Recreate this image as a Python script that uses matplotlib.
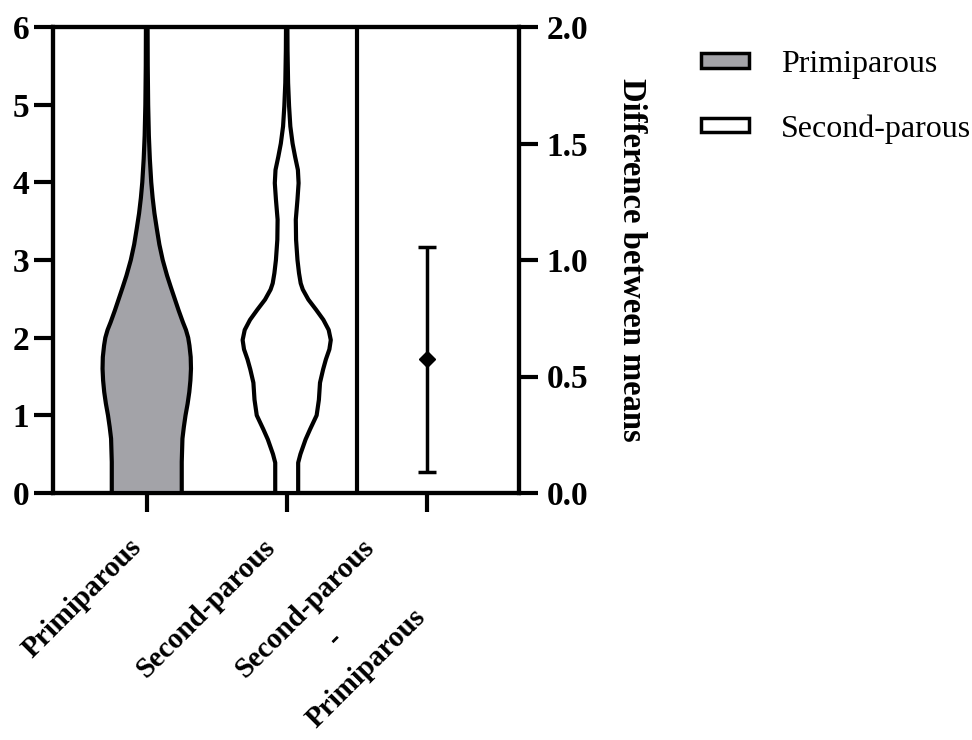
import numpy as np
import matplotlib
matplotlib.use("Agg")
import matplotlib.pyplot as plt
import matplotlib.transforms as mtrans
from matplotlib.patches import Patch

plt.rcParams['font.family'] = ['Liberation Serif', 'DejaVu Serif']

# category labels on the x axis
groups = ['Primiparous', 'Second-parous', 'Second-parous\n-\nPrimiparous']

# violin outlines: value level and half width (in group units)
prim_y = [0, 0.4, 0.7, 0.85, 1.0, 1.15, 1.3, 1.45, 1.6, 1.75, 1.9, 2.0, 2.1, 2.2, 2.35, 2.5,
          2.65, 2.8, 3.0, 3.2, 3.4, 3.6, 3.8, 4.0, 4.3, 4.6, 5.0, 5.5, 6.0]
prim_w = [0.25, 0.25, 0.255, 0.265, 0.277, 0.292, 0.304, 0.312, 0.316, 0.314, 0.305, 0.296, 0.28,
          0.258, 0.228, 0.20, 0.172, 0.145, 0.114, 0.09, 0.072, 0.055, 0.042, 0.032, 0.022,
          0.015, 0.01, 0.007, 0.006]

sec_y = [0, 0.39, 0.5, 0.69, 0.82, 1.0, 1.2, 1.42, 1.59, 1.72, 1.85, 1.97, 2.1, 2.23, 2.36, 2.49,
         2.62, 2.7, 2.83, 3.0, 3.26, 3.52, 3.78, 3.99, 4.16, 4.33, 4.5, 4.72, 4.98, 5.28, 5.7, 6.0]
sec_w = [0.082, 0.082, 0.098, 0.135, 0.167, 0.214, 0.23, 0.238, 0.26, 0.28, 0.305, 0.315, 0.3,
         0.262, 0.21, 0.155, 0.115, 0.1, 0.088, 0.077, 0.067, 0.065, 0.077, 0.085, 0.08, 0.06,
         0.042, 0.026, 0.017, 0.01, 0.006, 0.005]

# difference between means with its confidence interval
diff_mean = 0.575
diff_low = 0.09
diff_high = 1.055

gray = '#a3a3a8'
lw = 3.0

fig = plt.figure(figsize=(9.72, 7.4), dpi=100)
ax = fig.add_axes([53/972, 1-493/740, (519-53)/972, (493-27)/740])
ax.set_xlim(0.33, 3.66)
ax.set_ylim(0, 6)

for pos, ys, ws, fc in [(1, prim_y, prim_w, gray), (2, sec_y, sec_w, 'white')]:
    ys = np.array(ys)
    ws = np.array(ws)
    ax.fill_betweenx(ys, pos - ws, pos + ws, facecolor=fc, edgecolor='none', zorder=3, clip_on=False)
    ax.plot(pos - ws, ys, color='black', lw=lw, zorder=4, clip_on=False, solid_capstyle='butt')
    ax.plot(pos + ws, ys, color='black', lw=lw, zorder=4, clip_on=False, solid_capstyle='butt')

ax.axvline(2.5, color='black', lw=lw, zorder=2)

for s in ax.spines.values():
    s.set_linewidth(lw)
ax.set_yticks(range(7))
ax.set_xticks([1, 2, 3])
ax.set_xticklabels(groups, rotation=45, ha='right', va='top', multialignment='center',
                   linespacing=1.75, fontsize=21, fontweight='bold')
ax.tick_params(axis='y', length=14, width=lw, labelsize=24, pad=3)
ax.tick_params(axis='x', length=14, width=lw, pad=15)
for t in ax.get_yticklabels():
    t.set_fontweight('bold')

# nudge the x labels to where they sit in the picture
xl = ax.get_xticklabels()
xl[1].set_transform(xl[1].get_transform() + mtrans.ScaledTranslation(-0.06, 0, fig.dpi_scale_trans))
xl[2].set_transform(xl[2].get_transform() + mtrans.ScaledTranslation(0.14, 0, fig.dpi_scale_trans))

ax2 = ax.twinx()
ax2.set_ylim(0, 2)
ax2.set_yticks([0, 0.5, 1.0, 1.5, 2.0])
ax2.set_yticklabels(['0.0', '0.5', '1.0', '1.5', '2.0'], fontweight='bold')
ax2.tick_params(axis='y', length=14, width=lw, labelsize=24, pad=6)
for s in ax2.spines.values():
    s.set_linewidth(lw)
ax2.errorbar([3], [diff_mean], yerr=[[diff_mean - diff_low], [diff_high - diff_mean]],
             fmt='D', color='black', ms=8.5, lw=2.5, capsize=6.5, capthick=2.5)
ax2.set_ylabel('Difference between means', rotation=270, fontsize=23.5,
               fontweight='bold', labelpad=42)

handles = [Patch(facecolor=gray, edgecolor='black', lw=2.5, label='Primiparous'),
           Patch(facecolor='white', edgecolor='black', lw=2.5, label='Second-parous')]
fig.legend(handles=handles, loc='upper left', bbox_to_anchor=(701/972, 1-50/740),
           frameon=False, fontsize=23, handlelength=1.5, handleheight=0.3,
           labelspacing=1.1, handletextpad=1.0, borderaxespad=0, borderpad=0)

fig.savefig('out.png', dpi=100)
